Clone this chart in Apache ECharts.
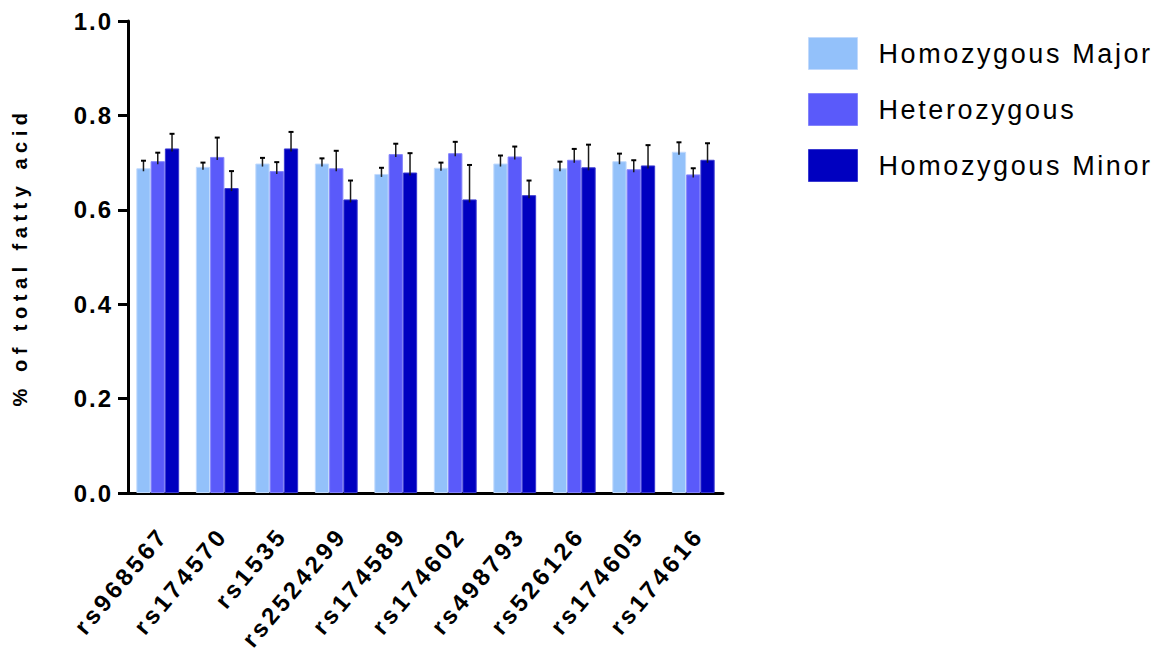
<!DOCTYPE html>
<html>
<head>
<meta charset="utf-8">
<script src="https://cdn.jsdelivr.net/npm/echarts@6/dist/echarts.min.js"></script>
<style>
  html, body { margin: 0; padding: 0; background: #fff; }
  #chart { width: 1170px; height: 658px; }
</style>
</head>
<body>
<div id="chart"></div>
<script>
// SNP categories along the x axis
const snps = ['rs968567', 'rs174570', 'rs1535', 'rs2524299', 'rs174589',
              'rs174602', 'rs498793', 'rs526126', 'rs174605', 'rs174616'];

// Genotype groups
const groupNames = ['Homozygous Major', 'Heterozygous', 'Homozygous Minor'];

// Mean % of total fatty acid per genotype group
const majorMean = [0.688, 0.691, 0.698, 0.698, 0.676, 0.689, 0.698, 0.688, 0.703, 0.723];
const hetMean   = [0.703, 0.712, 0.682, 0.688, 0.718, 0.720, 0.713, 0.706, 0.686, 0.675];
const minorMean = [0.730, 0.646, 0.730, 0.622, 0.679, 0.622, 0.631, 0.690, 0.694, 0.706];

// Upper error (SEM) per genotype group
const majorErr = [0.016, 0.009, 0.012, 0.011, 0.013, 0.011, 0.017, 0.014, 0.016, 0.020];
const hetErr   = [0.018, 0.041, 0.019, 0.037, 0.022, 0.024, 0.021, 0.023, 0.019, 0.013];
const minorErr = [0.031, 0.036, 0.035, 0.040, 0.041, 0.073, 0.031, 0.048, 0.043, 0.035];

// Y axis ticks
const yTicks = [0.0, 0.2, 0.4, 0.6, 0.8, 1.0];
const yTitle = '% of total fatty acid';

const FONT = "'Liberation Sans', Arial, Helvetica, sans-serif";
const COLORS = ['#93C1FA', '#5A5AFA', '#0000C0'];
const EDGES = ['#C2DAFC', '#8484FB', '#3A3AD0'];
const CAT_GAP = 0.28;

const means = [majorMean, hetMean, minorMean];
const errs = [majorErr, hetErr, minorErr];

function barSeries(i) {
  return {
    name: groupNames[i],
    type: 'bar',
    data: means[i],
    barGap: '0%',
    barCategoryGap: (CAT_GAP * 100) + '%',
    itemStyle: { color: COLORS[i], borderColor: EDGES[i], borderWidth: 1 },
    z: 2
  };
}

// Upward error bars with a small cap, centred on each bar of the group
function errorSeries(i) {
  return {
    type: 'custom',
    silent: true,
    z: 5,
    data: means[i].map((m, k) => [k, m, m + errs[i][k]]),
    encode: { x: 0, y: [1, 2] },
    renderItem(params, api) {
      const band = api.size([1, 0])[0];
      const bw = band * (1 - CAT_GAP) / 3;
      const base = api.coord([api.value(0), api.value(1)]);
      const top = api.coord([api.value(0), api.value(2)]);
      const x = base[0] + (i - 1) * bw;
      return {
        type: 'group',
        children: [
          { type: 'line', shape: { x1: x, y1: base[1] + 3, x2: x, y2: top[1] },
            style: { stroke: '#1a1a1a', lineWidth: 1.5 } },
          { type: 'line', shape: { x1: x - 2.5, y1: top[1], x2: x + 2.5, y2: top[1] },
            style: { stroke: '#000', lineWidth: 2 } }
        ]
      };
    }
  };
}

const chart = echarts.init(document.getElementById('chart'), null, { renderer: 'svg' });

chart.setOption({
  animation: false,
  backgroundColor: '#fff',
  textStyle: { fontFamily: FONT },
  grid: { left: 128, right: 447, top: 21, bottom: 165, containLabel: false },
  legend: {
    orient: 'vertical',
    left: 808,
    top: 37,
    padding: 0,
    itemWidth: 49,
    itemHeight: 32,
    itemGap: 23,
    icon: 'rect',
    data: groupNames,
    itemStyle: { borderWidth: 1 },
    textStyle: { fontFamily: FONT, fontSize: 27, color: '#000', padding: [0, 0, 0, 16] }
  },
  xAxis: {
    type: 'category',
    data: snps,
    axisLine: { lineStyle: { color: '#000', width: 3 } },
    axisTick: { alignWithLabel: true, length: 12, lineStyle: { color: '#000', width: 3 } },
    axisLabel: {
      rotate: 50,
      interval: 0,
      margin: 33,
      align: 'right',
      verticalAlign: 'top',
      lineHeight: 14,
      fontFamily: FONT,
      fontSize: 24,
      fontWeight: 'bold',
      color: '#000'
    }
  },
  yAxis: {
    type: 'value',
    min: yTicks[0],
    max: yTicks[yTicks.length - 1],
    interval: 0.2,
    name: yTitle,
    nameLocation: 'middle',
    nameGap: 98,
    nameTextStyle: { fontFamily: FONT, fontSize: 20, fontWeight: 'bold', color: '#000' },
    axisLine: { show: true, lineStyle: { color: '#000', width: 3 } },
    axisTick: { show: true, length: 10, lineStyle: { color: '#000', width: 3 } },
    splitLine: { show: false },
    axisLabel: {
      margin: 15,
      fontFamily: FONT,
      fontSize: 24,
      fontWeight: 'bold',
      color: '#000',
      formatter: v => v.toFixed(1)
    }
  },
  series: [barSeries(0), barSeries(1), barSeries(2), errorSeries(0), errorSeries(1), errorSeries(2)]
});

// Tracked lettering for the axis and legend texts
const spacing = {};
snps.forEach(s => { spacing[s] = '3.5px'; });
groupNames.forEach(n => { spacing[n] = '2.6px'; });
spacing[yTitle] = '5.5px';
yTicks.forEach(v => { spacing[v.toFixed(1)] = '2px'; });

function applySpacing() {
  document.querySelectorAll('#chart text').forEach(t => {
    const s = spacing[t.textContent];
    if (s) t.style.letterSpacing = s;
  });
}
applySpacing();
chart.on('finished', applySpacing);
</script>
</body>
</html>
